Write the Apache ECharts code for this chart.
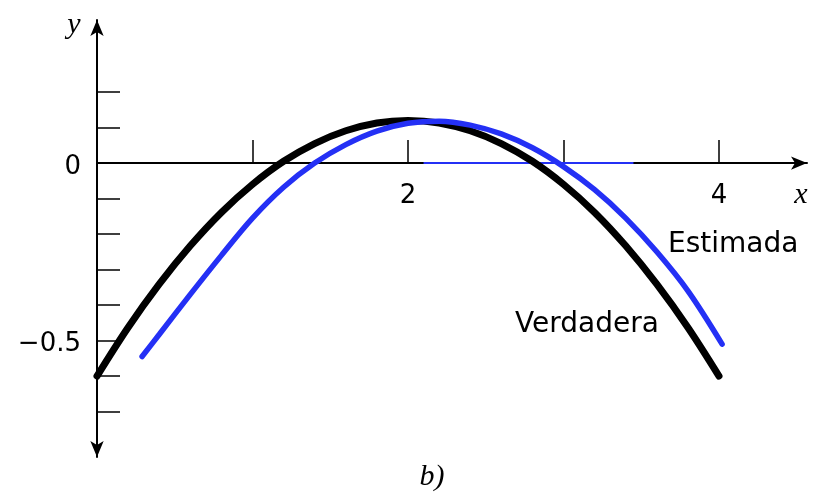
<!DOCTYPE html>
<html>
<head>
<meta charset="utf-8">
<script src="https://cdn.jsdelivr.net/npm/echarts@6/dist/echarts.min.js"></script>
<style>
  html, body { margin: 0; padding: 0; background: #ffffff; }
  #chart { width: 824px; height: 497px; }
</style>
</head>
<body>
<div id="chart"></div>
<script>
// True curve ("Verdadera")
const xTrue = [0, 0.2, 0.4, 0.6, 0.8, 1.0, 1.2, 1.4, 1.6, 1.8, 2.0, 2.2, 2.4, 2.6, 2.8, 3.0, 3.2, 3.4, 3.6, 3.8, 4.0];
const yTrue = [-0.60, -0.463, -0.341, -0.233, -0.139, -0.06, 0.005, 0.055, 0.091, 0.113, 0.12, 0.113, 0.091, 0.055, 0.005, -0.06, -0.139, -0.233, -0.341, -0.463, -0.60];

// Estimated curve ("Estimada")
const xEst = [0.29, 0.4, 0.6, 0.8, 1.0, 1.2, 1.4, 1.6, 1.8, 2.0, 2.2, 2.4, 2.6, 2.8, 3.0, 3.2, 3.4, 3.6, 3.8, 4.02];
const yEst = [-0.545, -0.483, -0.37, -0.26, -0.155, -0.068, 0.0, 0.052, 0.09, 0.112, 0.118, 0.107, 0.082, 0.043, -0.01, -0.075, -0.155, -0.25, -0.36, -0.51];

// Blue trace lying over part of the x axis
const xAxisTrace = [2.1, 3.45];
const yAxisTrace = [0, 0];

// Axis ticks and labels
const xTickValues = [1, 2, 3, 4];
const xLabelValues = [2, 4];
const yTickValues = [-0.7, -0.6, -0.5, -0.4, -0.3, -0.2, -0.1, 0.1, 0.2];
const yLabelValues = [-0.5, 0];

const pairs = (xs, ys) => xs.map((x, i) => [x, ys[i]]);
const fmtNum = v => (v < 0 ? '\u2212' + String(Math.abs(v)) : String(v));

const chart = echarts.init(document.getElementById('chart'), null, { renderer: 'canvas' });

const labelFont = { fontFamily: 'DejaVu Sans', fontSize: 26, color: '#000000' };
const italicFont = 'italic 30px "Liberation Serif", "DejaVu Serif", serif';

// Invisible carrier points whose labels act as tick labels
const tickLabelSeries = (name, data, position, offset, pick) => ({
  name,
  type: 'scatter',
  data,
  symbolSize: 0,
  silent: true,
  itemStyle: { color: '#000000', opacity: 1 },
  label: {
    show: true,
    position,
    distance: position === 'left' ? 16 : 20,
    offset,
    ...labelFont,
    formatter: p => fmtNum(p.value[pick])
  },
  emphasis: { disabled: true },
  z: 5
});

chart.setOption({
  animation: false,
  backgroundColor: '#ffffff',
  grid: { left: 97, right: 17, top: 20, bottom: 40, containLabel: false },
  xAxis: {
    type: 'value',
    min: 0,
    max: 4.566,
    axisLine: {
      onZero: true,
      symbol: ['none', 'arrow'],
      symbolSize: [10, 16],
      lineStyle: { color: '#000', width: 2 }
    },
    axisTick: {
      show: true,
      inside: true,
      length: 23,
      customValues: xTickValues,
      lineStyle: { color: '#000', width: 1.5 }
    },
    axisLabel: { show: false },
    splitLine: { show: false }
  },
  yAxis: {
    type: 'value',
    min: -0.828,
    max: 0.403,
    axisLine: {
      onZero: false,
      symbol: ['arrow', 'arrow'],
      symbolSize: [10, 16],
      lineStyle: { color: '#000', width: 2 }
    },
    axisTick: {
      show: true,
      inside: true,
      length: 23,
      customValues: yTickValues,
      lineStyle: { color: '#000', width: 1.5 }
    },
    axisLabel: { show: false },
    splitLine: { show: false }
  },
  series: [
    {
      name: 'axis trace',
      type: 'line',
      data: pairs(xAxisTrace, yAxisTrace),
      showSymbol: false,
      lineStyle: { color: '#2430f5', width: 2 },
      z: 2,
      silent: true
    },
    {
      name: 'Verdadera',
      type: 'line',
      data: pairs(xTrue, yTrue),
      smooth: 0.35,
      showSymbol: false,
      lineStyle: { color: '#000000', width: 7, cap: 'round' },
      z: 3
    },
    {
      name: 'Estimada',
      type: 'line',
      data: pairs(xEst, yEst),
      smooth: 0.35,
      showSymbol: false,
      lineStyle: { color: '#2430f5', width: 5.5, cap: 'round' },
      z: 4
    },
    tickLabelSeries('x labels', pairs(xLabelValues, xLabelValues.map(() => 0)), 'bottom', [0, 0], 0),
    tickLabelSeries('y labels', pairs(yLabelValues.map(() => 0), yLabelValues), 'left', [0, 4], 1)
  ],
  graphic: [
    { type: 'text', style: { text: 'y', x: 74, y: 25, font: italicFont, fill: '#000', align: 'center', verticalAlign: 'middle' } },
    { type: 'text', style: { text: 'x', x: 801, y: 195, font: italicFont, fill: '#000', align: 'center', verticalAlign: 'middle' } },
    { type: 'text', style: { text: 'b)', x: 432, y: 477, font: italicFont, fill: '#000', align: 'center', verticalAlign: 'middle' } },
    { type: 'text', style: { text: 'Estimada', x: 668, y: 245, font: '28px "DejaVu Sans"', fill: '#000', align: 'left', verticalAlign: 'middle' } },
    { type: 'text', style: { text: 'Verdadera', x: 515, y: 325, font: '28px "DejaVu Sans"', fill: '#000', align: 'left', verticalAlign: 'middle' } }
  ]
});
</script>
</body>
</html>
